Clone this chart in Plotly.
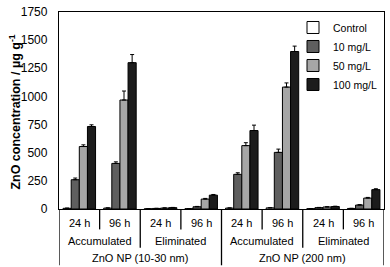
import plotly.graph_objects as go

# ---- data ----
series_names = ["Control", "10 mg/L", "50 mg/L", "100 mg/L"]
level1 = ["24 h", "96 h", "24 h", "96 h", "24 h", "96 h", "24 h", "96 h"]
level2 = ["Accumulated", "Eliminated", "Accumulated", "Eliminated"]
level3 = ["ZnO NP (10-30 nm)", "ZnO NP (200 nm)"]
y_ticks = [0, 250, 500, 750, 1000, 1250, 1500, 1750]

control = [6, 8, 2, 3, 8, 10, 3, 5]
c10 = [260, 405, 5, 20, 308, 503, 12, 35]
c50 = [555, 968, 8, 88, 563, 1083, 18, 97]
c100 = [733, 1300, 12, 123, 697, 1399, 22, 172]

control_err = [2, 2, 1, 1, 2, 2, 1, 1]
c10_err = [15, 14, 1, 3, 14, 29, 2, 4]
c50_err = [15, 80, 2, 6, 26, 37, 2, 6]
c100_err = [15, 72, 2, 6, 48, 48, 3, 8]

colors = ["#ffffff", "#5f5f5f", "#a6a6a6", "#1c1c1c"]

values = [control, c10, c50, c100]
errors = [control_err, c10_err, c50_err, c100_err]

x = list(range(len(level1)))

fig = go.Figure()
for name, vals, errs, col in zip(series_names, values, errors, colors):
    fig.add_trace(go.Bar(
        x=x, y=vals, name=name,
        marker=dict(color=col, line=dict(color="#000000", width=1)),
        error_y=dict(type="data", symmetric=False, array=errs,
                     arrayminus=[0] * len(errs), color="#000000",
                     thickness=1, width=2),
    ))

font_family = "Liberation Sans, Arial, sans-serif"

L, R, T, B = 59, 5, 6, 58
W, H = 390, 267
ph = H - T - B

def py(pix):
    # pixel y (from top of image) -> paper y
    return (H - B - pix) / ph

shapes = []
ann = []
for i, lab in enumerate(level1):
    ann.append(dict(x=i, y=py(223), xref="x", yref="paper", text=lab,
                    showarrow=False, font=dict(size=11, color="#000"),
                    xanchor="center", yanchor="middle"))
for j, lab in enumerate(level2):
    ann.append(dict(x=2 * j + 0.5, y=py(242), xref="x", yref="paper", text=lab,
                    showarrow=False, font=dict(size=11, color="#000"),
                    xanchor="center", yanchor="middle"))
for k, lab in enumerate(level3):
    ann.append(dict(x=4 * k + 1.5, y=py(259), xref="x", yref="paper", text=lab,
                    showarrow=False, font=dict(size=11, color="#000"),
                    xanchor="center", yanchor="middle"))

n = len(level1)
for b in range(0, n + 1):
    xb = b - 0.5
    if b == 0 or b == n or b % 4 == 0:
        yend = py(H)
    elif b % 2 == 0:
        yend = py(249)
    else:
        yend = py(230)
    shapes.append(dict(type="line", xref="x", yref="paper", x0=xb, x1=xb,
                       y0=0, y1=yend, line=dict(color="#000", width=1.3)))

ann.append(dict(x=-(L - 15) / (W - L - R), y=0.49, xref="paper", yref="paper",
                text="<b>ZnO concentration / µg g<sup>-1</sup></b>", textangle=-90,
                showarrow=False, font=dict(size=12.5, color="#000"),
                xanchor="center", yanchor="middle"))

fig.update_layout(
    width=W, height=H,
    margin=dict(l=L, r=R, t=T, b=B),
    paper_bgcolor="white", plot_bgcolor="white",
    font=dict(family=font_family, size=11, color="#000"),
    barmode="group", bargap=0.2, bargroupgap=0,
    showlegend=True,
    legend=dict(x=0.72, y=0.995, xanchor="left", yanchor="top",
                bgcolor="rgba(0,0,0,0)", font=dict(size=10.5),
                itemwidth=30, tracegroupgap=0),
    xaxis=dict(range=[-0.5, n - 0.5], showticklabels=False, ticks="",
               showgrid=False, zeroline=False, showline=True,
               linecolor="#000", linewidth=1.3, mirror=True),
    yaxis=dict(range=[0, 1750], tickmode="array", tickvals=y_ticks,
               showgrid=False, zeroline=False,
               showline=True, linecolor="#000", linewidth=1.3, mirror=True,
               ticks="", ticklabelstandoff=8, ticklabeloverflow="allow",
               tickfont=dict(size=12, color="#000")),
    shapes=shapes, annotations=ann,
)

fig.write_html("out.html", config={"displayModeBar": False},
               post_script="document.body.style.margin='0';document.body.style.overflow='hidden';")
